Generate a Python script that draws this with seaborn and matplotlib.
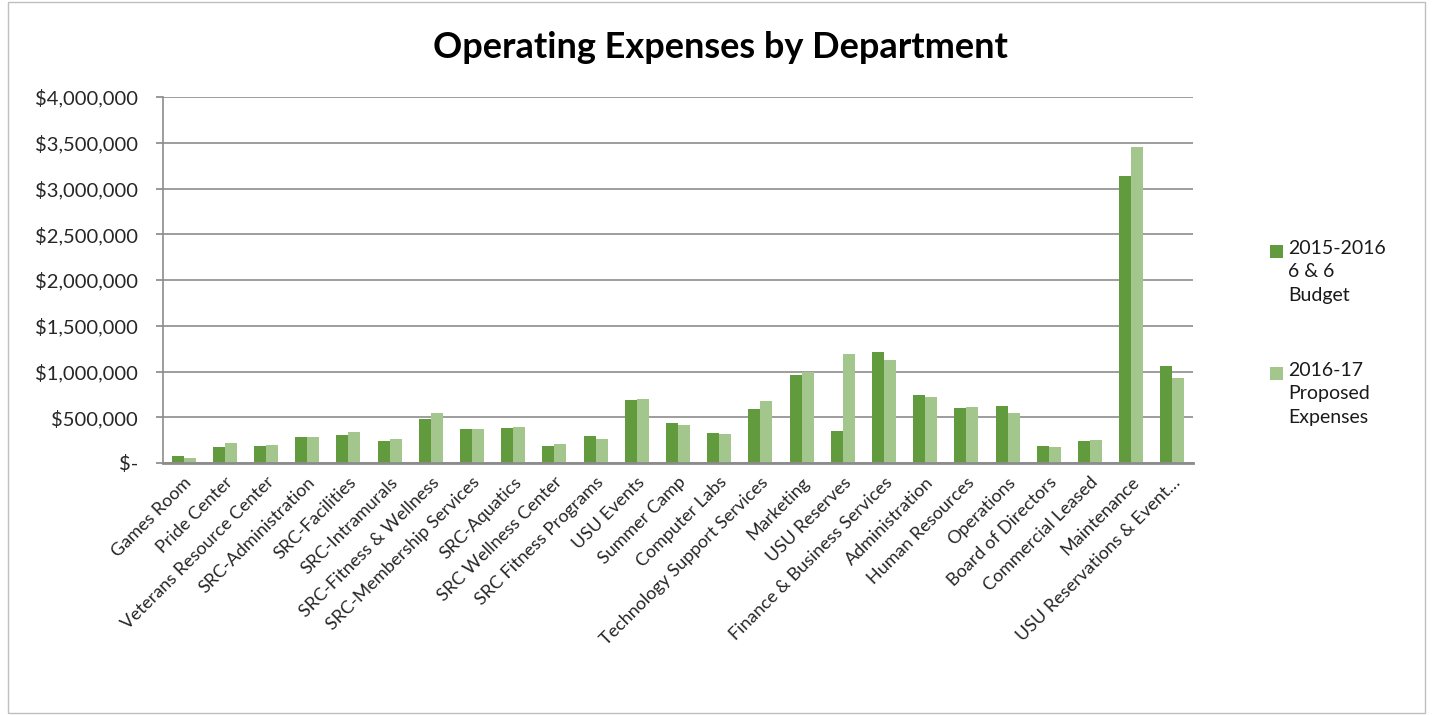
import matplotlib
matplotlib.use("Agg")
import matplotlib.pyplot as plt
import pandas as pd
import seaborn as sns
from matplotlib.patches import Rectangle
from matplotlib.ticker import FuncFormatter, MultipleLocator

departments = [
    "Games Room", "Pride Center", "Veterans Resource Center", "SRC-Administration",
    "SRC-Facilities", "SRC-Intramurals", "SRC-Fitness & Wellness",
    "SRC-Membership Services", "SRC-Aquatics", "SRC Wellness Center",
    "SRC Fitness Programs", "USU Events", "Summer Camp", "Computer Labs",
    "Technology Support Services", "Marketing", "USU Reserves",
    "Finance & Business Services", "Administration", "Human Resources",
    "Operations", "Board of Directors", "Commercial Leased", "Maintenance",
    "USU Reservations & Event\u2026",
]
budget_2015 = [
    81000, 177000, 191000, 279000, 309000, 235000, 482000, 368000, 379000,
    184000, 290000, 684000, 434000, 323000, 592000, 963000, 353000, 1213000,
    742000, 596000, 621000, 191000, 239000, 3142000, 1055000,
]
proposed_2016 = [
    58000, 221000, 202000, 279000, 342000, 261000, 548000, 368000, 397000,
    213000, 257000, 698000, 419000, 312000, 680000, 993000, 1191000, 1129000,
    724000, 614000, 548000, 180000, 250000, 3452000, 930000,
]
series_labels = ["2015-2016\n6 & 6\nBudget", "2016-17\nProposed\nExpenses"]
colors = ["#629A3E", "#A3C68D"]

df = pd.concat(
    [
        pd.DataFrame({"department": departments, "amount": budget_2015, "series": series_labels[0]}),
        pd.DataFrame({"department": departments, "amount": proposed_2016, "series": series_labels[1]}),
    ],
    ignore_index=True,
)

sns.set_theme(style="white")
plt.rcParams["font.family"] = ["Lato", "DejaVu Sans"]

fig = plt.figure(figsize=(14.32, 7.15), dpi=100)
ax = fig.add_axes([163 / 1432, 1 - 463 / 715, 1030 / 1432, 366 / 715])

sns.barplot(
    data=df, x="department", y="amount", hue="series", palette=colors,
    width=0.58, gap=0, saturation=1, ax=ax, legend=False, linewidth=0,
)

ax.set_ylim(0, 4000000)
ax.set_xlim(-0.5, len(departments) - 0.5)
ax.yaxis.set_major_locator(MultipleLocator(500000))
ax.yaxis.set_major_formatter(
    FuncFormatter(lambda v, _: r"\$-" if v == 0 else r"\${:,.0f}".format(v))
)
ax.grid(axis="y", color="#8C8C8C", linewidth=1.2)
ax.set_axisbelow(True)
ax.set_xlabel("")
ax.set_ylabel("")
for side in ["top", "right"]:
    ax.spines[side].set_visible(False)
for side in ["left", "bottom"]:
    ax.spines[side].set_color("#8C8C8C")
    ax.spines[side].set_linewidth(1.2)
ax.spines["bottom"].set_linewidth(2)
ax.tick_params(axis="y", left=True, length=5, color="#8C8C8C", labelsize=14.5, pad=13)
ax.tick_params(axis="x", bottom=False, labelsize=13, pad=2)
plt.setp(ax.get_xticklabels(), rotation=45, ha="right", rotation_mode="anchor")

# legend drawn by hand so the swatch sits beside the first line of each label
for i, (label, color) in enumerate(zip(series_labels, colors)):
    top = 1 - (243 + i * 122) / 715
    fig.patches.append(
        Rectangle((1270 / 1432, top - 15 / 715), 13 / 1432, 13 / 715,
                  transform=fig.transFigure, facecolor=color, edgecolor="none")
    )
    fig.text(1288 / 1432, top + 3 / 715, label, ha="left", va="top",
             fontsize=14, linespacing=1.45, color="#1A1A1A")

fig.suptitle("Operating Expenses by Department", x=0.503, y=0.957,
             fontsize=26, fontweight="bold", color="black")

fig.patches.append(
    Rectangle((8 / 1432, 0.003), 1417 / 1432, 0.994, transform=fig.transFigure,
              fill=False, edgecolor="#BFBFBF", linewidth=1)
)

fig.savefig("out.png", dpi=100)
